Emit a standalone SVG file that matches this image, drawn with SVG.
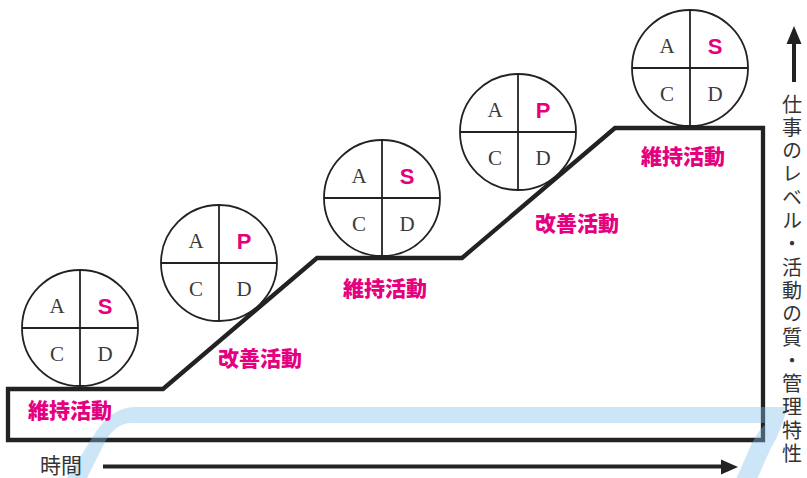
<svg xmlns="http://www.w3.org/2000/svg" width="807" height="478" viewBox="0 0 807 478">
<style>
.ring{fill:#fff;stroke:#222;stroke-width:1.8}
.cross{stroke:#222;stroke-width:1.8}
.ser{font-family:"Liberation Serif","DejaVu Serif",serif;font-size:21px;fill:#3a3a3a;text-anchor:middle}
.mag{font-family:"Liberation Sans",Arial,sans-serif;font-weight:bold;font-size:22px;fill:#e5007f;text-anchor:middle}
.lbl{font-family:"Noto Sans CJK JP","Noto Sans",sans-serif;font-weight:900;font-size:21px;fill:#e5007f;text-anchor:middle}
.jp{font-family:"Noto Sans CJK JP","Noto Sans",sans-serif;fill:#333}
</style>
<defs>
<g id="pdcaBase">
<circle class="ring" cx="0" cy="0" r="58"/>
<line class="cross" x1="-58" y1="0" x2="58" y2="0"/>
<line class="cross" x1="0" y1="-58" x2="0" y2="58"/>
<text class="ser" x="-23" y="-15">A</text>
<text class="ser" x="-23" y="33">C</text>
<text class="ser" x="25" y="33">D</text>
</g>
</defs>
<rect width="807" height="478" fill="#fff"/>
<g id="connectors">
<path d="M8,389 H163 L317,258 H462 L615,128 H763 V440 H8 Z" fill="none" stroke="#222" stroke-width="4.3" stroke-linejoin="miter"/>
<path d="M103,466.5 H725" stroke="#222" stroke-width="4"/>
<polygon points="738,467 721,459.5 721,474.5" fill="#222"/>
<path d="M794,42 V82" stroke="#222" stroke-width="4"/>
<polygon points="794,26 786.5,44 801.5,44" fill="#222"/>
</g>
<path id="band" d="M62,486 L92,438 Q110,407 135,407 H787 Q782,430 770,450 L754,486 H733 L752,443 Q760,428 767,423 H130 Q116,424 106,440 L83,486 Z" fill="#80c0ec" opacity="0.4"/>
<g id="node1" transform="translate(80,328)">
<use href="#pdcaBase"/>
<text class="mag" x="25" y="-14">S</text>
</g>
<g id="node2" transform="translate(219,263)">
<use href="#pdcaBase"/>
<text class="mag" x="25" y="-14">P</text>
</g>
<g id="node3" transform="translate(382,198)">
<use href="#pdcaBase"/>
<text class="mag" x="25" y="-14">S</text>
</g>
<g id="node4" transform="translate(518,132)">
<use href="#pdcaBase"/>
<text class="mag" x="25" y="-14">P</text>
</g>
<g id="node5" transform="translate(690,68)">
<use href="#pdcaBase"/>
<text class="mag" x="25" y="-14">S</text>
</g>
<g id="labels">
<text class="lbl" x="70" y="418">維持活動</text>
<text class="lbl" x="260" y="366">改善活動</text>
<text class="lbl" x="385" y="296">維持活動</text>
<text class="lbl" x="577" y="231">改善活動</text>
<text class="lbl" x="683" y="164">維持活動</text>
<text class="jp" x="40" y="473" font-size="21">時間</text>
<text class="jp" x="792" y="94" font-size="20" style="writing-mode:vertical-rl;letter-spacing:3.3px">仕事のレベル・活動の質・管理特性</text>
</g>
</svg>
